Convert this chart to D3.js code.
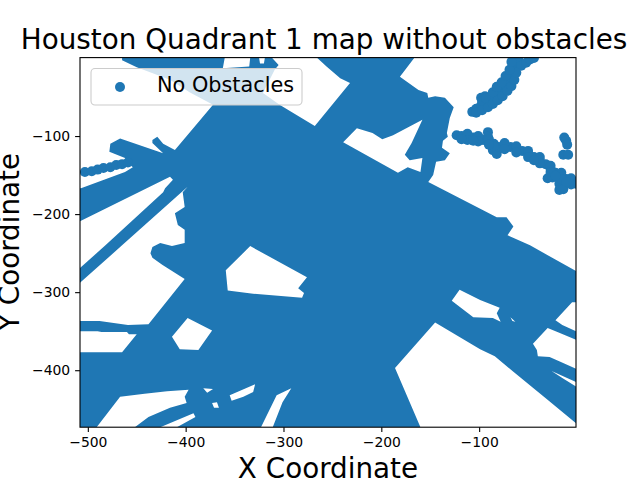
<!DOCTYPE html>
<html lang="en">
  <head>
    <meta charset="utf-8">
    <title>Houston Quadrant 1 map without obstacles</title>
    <script src="https://d3js.org/d3.v7.min.js"></script>
    <style>
      body { margin: 0; background: white; }
      text { font-family: "DejaVu Sans", sans-serif; fill: black; }
    </style>
  </head>

  <body>
  <script>

// Values, in data units

  var xTicks = [-500, -400, -300, -200, -100];
  var yTicks = [-100, -200, -300, -400];
  var seriesName = "No Obstacles";

  // outline of the area the points fill solid
  var coverage = [[-508, 0.5], [-1, 0.5], [-1, -473], [-508, -473]];

  // areas with no points, cut out of the coverage
  var gapTopLeft = [[-508, 0.5], [-465, 0.5], [-465, -3], [-450, -12], [-416, -28], [-396, -44], [-372, -60], [-411, -118], [-423, -110], [-429, -101], [-434, -105], [-434, -109], [-423, -122], [-467, -103], [-477, -110], [-478, -120], [-462, -128], [-460, -133], [-454, -140], [-462, -146], [-507, -167], [-508, -167]];
  var gapLeftWedge = [[-508, -209], [-416, -152], [-413, -156], [-421, -167], [-423, -172], [-482, -240], [-508, -269]];
  var gapLeftLarge = [[-508, -288], [-465, -240], [-398, -165], [-403, -172], [-401, -191], [-411, -199], [-408, -214], [-401, -220], [-401, -237], [-414, -241], [-426, -237], [-434, -242], [-436, -250], [-434, -256], [-424, -265], [-401, -283], [-438, -341], [-459, -342], [-488, -337], [-508, -337]];
  var gapLeftLow = [[-508, -350], [-490, -350], [-486, -351], [-460, -351], [-458, -354], [-450, -354], [-465, -377], [-508, -377]];
  var gapDiamond = [[-398, -333], [-373, -349], [-387, -374], [-406, -373], [-414, -357]];
  var gapCentre = [[-334, -241], [-276, -281], [-285, -295], [-279, -301], [-281, -307], [-331, -302], [-357, -298], [-359, -272]];
  var gapBottomA = [[-467, -434], [-442, -430], [-419, -427], [-397, -425], [-401, -434], [-399, -442], [-416, -448], [-438, -460], [-452, -473], [-491, -473]];
  var gapBottomB = [[-426, -473], [-392, -455], [-390, -460], [-409, -473]];
  var gapBottomC = [[-382, -423], [-372, -424], [-378, -429]];
  var gapBottomD = [[-373, -442], [-368, -441], [-366, -448], [-371, -448]];
  var gapBottomE = [[-355, -432], [-329, -418], [-331, -428], [-341, -434], [-353, -439]];
  var gapBottomF = [[-307, -432], [-292, -423], [-301, -441], [-311, -473], [-323, -473]];
  var gapTopNotch = [[-360, 0.5], [-362, -13], [-335, -11], [-334, 0.5]];
  var gapTopSliver = [[-325, 0.5], [-324, -7], [-320, -7], [-319, 0.5]];
  var gapTopMiddle = [[-312, 0.5], [-305, -9], [-309, -15], [-321, -45], [-304, -60], [-268, -87], [-232, -32], [-242, -26], [-256, -11], [-266, 0.5]];
  var gapInner = [[-225, -90], [-209, -96], [-199, -104], [-188, -99], [-158, -79], [-169, -109], [-176, -124], [-171, -131], [-158, -128], [-160, -146], [-173, -140], [-183, -147], [-239, -108]];
  var gapTopRight = [[-166, 0.5], [-181, -24], [-162, -41], [-153, -45], [-152, -51], [-145, -49], [-135, -51], [-126, -63], [-130, -77], [-133, -96], [-132, -101], [-137, -106], [-138, -115], [-130, -122], [-135, -131], [-144, -133], [-147, -150], [-152, -159], [-82, -204], [-72, -204], [-65, -216], [-71, -227], [-48, -240], [-1, -273], [-1, 0.5]];
  var gapRightA = [[-120, -297], [-99, -310], [-79, -320], [-82, -327], [-78, -338], [-86, -333], [-106, -332], [-128, -311]];
  var gapRightB = [[-68, -332], [-63, -338], [-66, -337]];
  var gapRightC = [[-5, -313], [-1, -313], [-1, -350], [-15, -342], [-22, -336]];
  var gapRightD = [[-30, -346], [-20, -351], [-1, -361], [-1, -398], [-17, -389], [-28, -383], [-40, -382], [-41, -374], [-45, -366]];
  var gapRightE = [[-26, -401], [-1, -415], [-1, -421], [-15, -410]];
  var gapBottomRight = [[-145, -339], [-99, -373], [-84, -382], [-65, -402], [-31, -437], [-1, -468], [-1, -473], [-160, -473], [-186, -397]];

  var gaps = [gapTopLeft, gapLeftWedge, gapLeftLarge, gapLeftLow, gapDiamond, gapCentre,
    gapBottomA, gapBottomB, gapBottomC, gapBottomD, gapBottomE, gapBottomF,
    gapTopNotch, gapTopSliver, gapTopMiddle, gapInner, gapTopRight,
    gapRightA, gapRightB, gapRightC, gapRightD, gapRightE, gapBottomRight];

  // separate points that show as tracks outside the solid area
  var leftArm = [[-503, -146], [-496, -145], [-490, -143], [-484, -141], [-477, -140], [-471, -137], [-465, -136], [-459, -134]];
  var upperTrack = [[-107, -69], [-103, -65], [-98, -61], [-93, -58], [-88, -55], [-84, -51], [-80, -46], [-76, -41], [-71, -36], [-68, -31], [-66, -24], [-65, -18], [-63, -11], [-62, -5], [-60, -1], [-57, -10], [-52, -6], [-48, -2], [-44, 0], [-98, -51], [-94, -49], [-90, -51], [-81, -37], [-76, -33], [-71, -29], [-83, -44], [-97, -55], [-93, -52],
    [-103, -70], [-97, -67], [-91, -63], [-86, -59], [-81, -54], [-76, -49], [-71, -42], [-67, -36], [-64, -28], [-62, -19],
    [-86, -44], [-82, -37], [-77, -31], [-73, -23], [-69, -15], [-67, -5]];
  var middleTrack = [[-123, -99], [-118, -100], [-112, -101], [-106, -102], [-101, -104], [-96, -105], [-91, -95], [-91, -101], [-90, -108], [-85, -110], [-86, -118], [-82, -123], [-80, -114], [-74, -113], [-68, -114], [-62, -117], [-56, -119], [-50, -123], [-44, -127], [-38, -131], [-32, -136], [-27, -142], [-22, -147], [-16, -151], [-11, -155], [-6, -158], [-1, -161], [-30, -154], [-25, -153], [-18, -161], [-18, -169], [-14, -168],
    [-112, -97], [-101, -100], [-90, -104], [-74, -109], [-62, -113], [-50, -119], [-38, -127], [-27, -138], [-16, -147], [-6, -154],
    [-112, -105], [-101, -107], [-85, -113], [-74, -117], [-62, -121], [-50, -127], [-38, -135], [-27, -146], [-16, -155], [-6, -162],
    [-118, -104], [-106, -106], [-90, -111], [-44, -131], [-22, -151], [-11, -159]];
  var rightPoints = [[-13, -102], [-11, -106], [-10, -111], [-14, -124], [-9, -124]];

  var blue = "#1f77b4";
  var w = 640;
  var h = 480;
  var left = 80, right = 576, top_ = 57.6, bottom = 427.2;

  var svg = d3.select("body")
    .append("svg")
      .attr("width", w)
      .attr("height", h)
      .style("display", "block");

  var xScale = d3.scaleLinear().domain([-508, -1]).range([left, right]);
  var yScale = d3.scaleLinear().domain([-473, 0.5]).range([bottom, top_]);

  svg.append("clipPath").attr("id", "plot")
    .append("rect")
      .attr("x", left)
      .attr("y", top_)
      .attr("width", right - left)
      .attr("height", bottom - top_);

  var outline = d3.line()
    .x(d => xScale(d[0]))
    .y(d => yScale(d[1]))
    .curve(d3.curveLinearClosed);

// Solid area and the loose points

  var marks = svg.append("g").attr("clip-path", "url(#plot)");

  marks.append("path")
    .attr("d", [coverage].concat(gaps).map(outline).join(""))
    .attr("fill", blue)
    .attr("fill-rule", "evenodd");

  marks.selectAll("circle")
    .data(leftArm.concat(upperTrack, middleTrack, rightPoints))
    .enter().append("circle")
      .attr("cx", d => xScale(d[0]))
      .attr("cy", d => yScale(d[1]))
      .attr("r", 5)
      .attr("fill", blue);

// Axes

  var xAxis = d3.axisBottom(xScale).tickValues(xTicks).tickSize(4.9).tickPadding(4.9);
  var yAxis = d3.axisLeft(yScale).tickValues(yTicks).tickSize(4.9).tickPadding(4.9);

  var gx = svg.append("g").attr("transform", "translate(0," + bottom + ")").call(xAxis);
  var gy = svg.append("g").attr("transform", "translate(" + left + ",0)").call(yAxis);

  [gx, gy].forEach(function (g) {
    g.select(".domain").remove();
    g.selectAll(".tick line").attr("stroke", "black").attr("stroke-width", 1.1);
    g.selectAll(".tick text").attr("font-size", 13.9).attr("font-family", "DejaVu Sans");
  });

  svg.append("rect")
    .attr("x", left)
    .attr("y", top_)
    .attr("width", right - left)
    .attr("height", bottom - top_)
    .attr("fill", "none")
    .attr("stroke", "black")
    .attr("stroke-width", 1.1);

// Title and labels

  svg.append("text")
    .attr("x", 324)
    .attr("y", 49)
    .attr("text-anchor", "middle")
    .attr("font-size", 27.8)
    .text("Houston Quadrant 1 map without obstacles");

  svg.append("text")
    .attr("x", 328)
    .attr("y", 478)
    .attr("text-anchor", "middle")
    .attr("font-size", 27.8)
    .text("X Coordinate");

  svg.append("text")
    .attr("transform", "translate(19,242) rotate(-90)")
    .attr("text-anchor", "middle")
    .attr("font-size", 27.8)
    .text("Y Coordinate");

// Legend

  svg.append("rect")
    .attr("x", 91)
    .attr("y", 68.5)
    .attr("width", 211)
    .attr("height", 36.5)
    .attr("rx", 4)
    .attr("fill", "white")
    .attr("fill-opacity", 0.8)
    .attr("stroke", "#cccccc")
    .attr("stroke-width", 1.1);

  svg.append("circle")
    .attr("cx", 120)
    .attr("cy", 87)
    .attr("r", 5)
    .attr("fill", blue);

  svg.append("text")
    .attr("x", 157)
    .attr("y", 92)
    .attr("font-size", 20.8)
    .text(seriesName);

  </script>
  </body>
</html>
